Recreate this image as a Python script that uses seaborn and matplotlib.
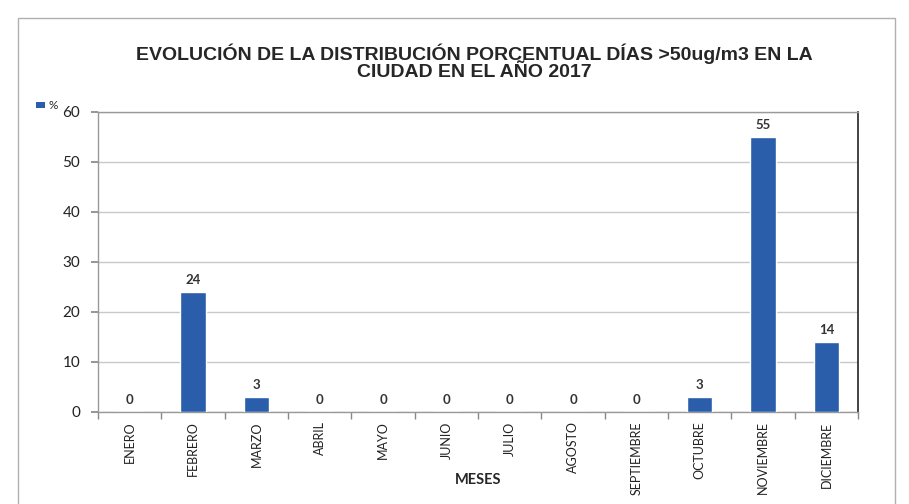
import matplotlib
matplotlib.use("Agg")
import matplotlib.pyplot as plt
from matplotlib.patches import Rectangle
import numpy as np
import seaborn as sns

# Data
meses = ["ENERO", "FEBRERO", "MARZO", "ABRIL", "MAYO", "JUNIO", "JULIO",
         "AGOSTO", "SEPTIEMBRE", "OCTUBRE", "NOVIEMBRE", "DICIEMBRE"]
porcentaje = [0, 24, 3, 0, 0, 0, 0, 0, 0, 3, 55, 14]
y_ticks = [0, 10, 20, 30, 40, 50, 60]

bar_color = "#2A5DAA"

sns.set_theme(style="white")
plt.rcParams["font.family"] = ["Lato", "DejaVu Sans"]

fig = plt.figure(figsize=(9.09, 5.04), dpi=100)
ax = fig.add_axes([0.108, 0.183, 0.836, 0.595])

sns.barplot(x=meses, y=porcentaje, color=bar_color, width=0.4, ax=ax,
            saturation=1, zorder=3)

# value labels
for i, v in enumerate(porcentaje):
    ax.text(i, v + 1.2, str(v), ha="center", va="bottom", fontsize=9.5,
            color="#333333", fontweight="bold")

ax.set_ylim(0, 60)
ax.set_xlim(-0.5, len(meses) - 0.5)
ax.set_yticks(y_ticks)
ax.yaxis.grid(True, color="#c8c8c8", linewidth=1, zorder=0)
ax.tick_params(axis="y", labelsize=11, length=5, color="#888888", direction="out",
               left=True, pad=8, labelcolor="#222222")
ax.tick_params(axis="x", which="major", length=0, labelsize=9, rotation=90, pad=7,
               labelcolor="#222222")
ax.set_xticks(np.arange(-0.5, len(meses), 1.0), minor=True)
ax.tick_params(axis="x", which="minor", length=5, color="#888888", bottom=True)

for side in ["left", "top", "bottom"]:
    ax.spines[side].set_color("#999999")
    ax.spines[side].set_linewidth(1)
ax.spines["right"].set_color("#222222")
ax.spines["right"].set_linewidth(1.2)

ax.set_xlabel("MESES", fontsize=10.5, fontweight="bold", labelpad=-16)
ax.set_ylabel("")

fig.text(0.522, 0.877, "EVOLUCIÓN DE LA DISTRIBUCIÓN PORCENTUAL DÍAS >50ug/m3 EN LA\nCIUDAD EN EL AÑO 2017",
         ha="center", va="center", fontsize=14, fontweight="bold", linespacing=1.0,
         family=["Liberation Sans", "DejaVu Sans"])

# legend at top-left
fig.patches.append(Rectangle((0.040, 0.785), 0.010, 0.013, transform=fig.transFigure,
                             facecolor=bar_color, edgecolor="none"))
fig.text(0.053, 0.791, "%", fontsize=8.5, va="center", ha="left")

# outer border of the chart area
fig.patches.append(Rectangle((0.02, -0.01), 0.965, 0.975, transform=fig.transFigure,
                             facecolor="none", edgecolor="#b0b0b0", linewidth=1))

fig.savefig("out.png", dpi=100)
